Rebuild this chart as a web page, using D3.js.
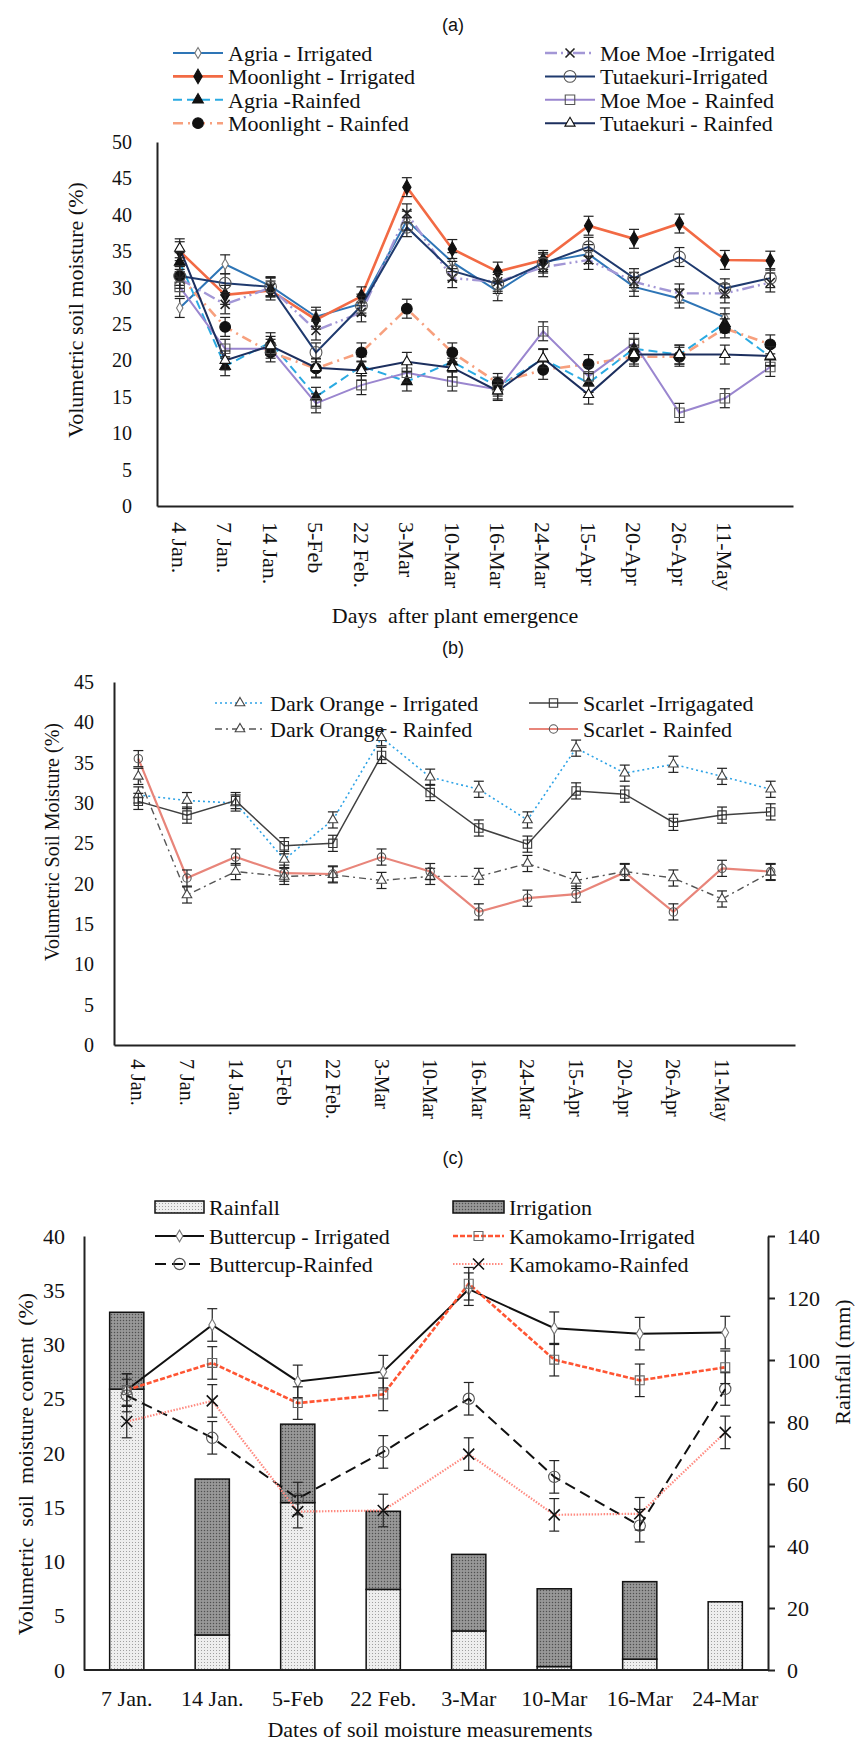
<!DOCTYPE html>
<html>
<head>
<meta charset="utf-8">
<script src="https://cdn.jsdelivr.net/npm/d3@7"></script>
<style>
  body { margin: 0; background: #fff; }
  svg text { font-family: "Liberation Serif", "Times New Roman", serif; fill: #111; }
  svg text.panel { font-family: "Liberation Sans", Arial, sans-serif; }
</style>
</head>
<body>
<script>
// ---------- data: panel (a) ----------
let datesA = ["4 Jan.", "7 Jan.", "14 Jan.", "5-Feb", "22 Feb.", "3-Mar", "10-Mar",
  "16-Mar", "24-Mar", "15-Apr", "20-Apr", "26-Apr", "11-May", ""];

let agriaIrr = [27.2, 33.2, 30.2, 26.0, 27.8, 39.2, 33.5, 29.5, 33.5, 34.6, 30.1, 28.5, 25.9, null];
let moonlightIrr = [35.0, 29.0, 29.6, 25.6, 28.8, 43.8, 35.3, 32.2, 33.8, 38.5, 36.7, 38.8, 33.8, 33.7];
let agriaRain = [33.5, 19.2, 22.5, 15.0, 19.2, 17.1, 19.8, 16.4, 20.2, 16.9, 21.6, 20.8, 25.1, 20.5];
let moonlightRain = [31.6, 24.6, 21.1, 18.9, 21.1, 27.1, 21.1, 16.9, 18.7, 19.5, 20.5, 20.5, 24.4, 22.2];
let moeMoeIrr = [31.2, 27.7, 30.0, 24.1, 26.6, 40.2, 31.3, 30.8, 32.8, 33.8, 30.8, 29.2, 29.2, 30.7];
let tutaekuriIrr = [31.6, 30.6, 30.1, 21.1, 27.5, 38.3, 32.3, 30.5, 33.3, 35.6, 31.3, 34.2, 29.9, 31.3];
let moeMoeRain = [30.1, 21.6, 21.6, 14.1, 16.6, 18.3, 17.1, 16.0, 24.0, 17.8, 22.4, 12.8, 14.8, 19.1];
let tutaekuriRain = [35.4, 20.0, 22.0, 19.0, 18.6, 19.8, 19.0, 15.8, 20.3, 15.3, 20.8, 20.8, 20.8, 20.6];
let errA = 1.3;
let ticksA = d3.range(0, 51, 5);

// ---------- data: panel (b) ----------
let datesB = datesA;
let darkOrangeIrr = [31.0, 30.3, 30.0, 23.0, 27.9, 38.1, 33.2, 31.7, 27.9, 36.8, 33.7, 34.8, 33.3, 31.7];
let darkOrangeRain = [33.3, 18.6, 21.5, 20.9, 21.1, 20.4, 20.9, 20.9, 22.5, 20.4, 21.5, 20.7, 18.1, 21.4];
let scarletIrr = [30.2, 28.5, 30.3, 24.7, 25.0, 35.9, 31.3, 26.9, 24.9, 31.5, 31.1, 27.6, 28.5, 28.9];
let scarletRain = [35.5, 20.7, 23.3, 21.3, 21.2, 23.3, 21.5, 16.5, 18.2, 18.7, 21.4, 16.5, 21.9, 21.5];
let errB = 1.0;
let ticksB = d3.range(0, 46, 5);

// ---------- data: panel (c) ----------
let datesC = ["7 Jan.", "14 Jan.", "5-Feb", "22 Feb.", "3-Mar", "10-Mar", "16-Mar", "24-Mar"];
let rainfall = [90.6, 11.3, 54.0, 26.0, 12.6, 1.1, 3.5, 22.0];
let irrigation = [24.8, 50.3, 25.3, 25.2, 24.7, 25.1, 25.0, 0];
let buttercupIrr = [25.8, 31.8, 26.6, 27.5, 35.1, 31.5, 31.0, 31.1];
let buttercupRain = [25.3, 21.4, 15.8, 20.1, 25.0, 17.8, 13.3, 25.9];
let kamokamoIrr = [25.8, 28.3, 24.6, 25.4, 35.6, 28.6, 26.7, 27.9];
let kamokamoRain = [22.9, 24.8, 14.6, 14.7, 19.9, 14.3, 14.4, 21.9];
let errC = 1.5;
let ticksC = d3.range(0, 41, 5);
let ticksRain = d3.range(0, 141, 20);

// ---------- svg ----------
let svg = d3.select("body").append("svg").attr("width", 855).attr("height", 1745);

let defs = svg.append("defs");
let rainPat = defs.append("pattern").attr("id", "rainPat")
  .attr("width", 3).attr("height", 3).attr("patternUnits", "userSpaceOnUse");
rainPat.append("rect").attr("width", 3).attr("height", 3).attr("fill", "#eeeeee");
rainPat.append("rect").attr("width", 1).attr("height", 1).attr("fill", "#a0a0a0");
let irrPat = defs.append("pattern").attr("id", "irrPat")
  .attr("width", 3).attr("height", 3).attr("patternUnits", "userSpaceOnUse");
irrPat.append("rect").attr("width", 3).attr("height", 3).attr("fill", "#8e8e8e");
irrPat.append("rect").attr("width", 1).attr("height", 1).attr("fill", "#505050");
irrPat.append("rect").attr("x", 1.5).attr("y", 1.5).attr("width", 1).attr("height", 1).attr("fill", "#b5b5b5");

// marker shapes
let symbolTypes = {
  diamond: d3.symbolDiamond,
  triangle: d3.symbolTriangle,
  circle: d3.symbolCircle,
  square: d3.symbolSquare,
};

function drawMarker(g, s, x, y) {
  if (s.marker === "x") {
    let h = s.msize;
    g.append("path")
      .attr("d", `M${x - h},${y - h}L${x + h},${y + h}M${x - h},${y + h}L${x + h},${y - h}`)
      .attr("stroke", s.mstroke)
      .attr("stroke-width", 1.6)
      .attr("fill", "none");
  } else {
    g.append("path")
      .attr("d", d3.symbol().type(symbolTypes[s.marker]).size(s.msize)())
      .attr("transform", `translate(${x},${y})`)
      .attr("fill", s.mfill)
      .attr("stroke", s.mstroke)
      .attr("stroke-width", 1.1);
  }
}

// draw a set of series with error bars
function drawSeries(series, xPos, yScale, err) {
  let g = svg.append("g");
  series.forEach((s) => {
    let line = d3.line()
      .defined((d) => d != null)
      .x((d, i) => xPos(i))
      .y((d) => yScale(d));
    g.append("path")
      .datum(s.values)
      .attr("d", line)
      .attr("fill", "none")
      .attr("stroke", s.color)
      .attr("stroke-width", s.width)
      .attr("stroke-dasharray", s.dash || null);
  });
  series.forEach((s) => {
    s.values.forEach((v, i) => {
      if (v == null) return;
      let x = xPos(i);
      g.append("line")
        .attr("x1", x).attr("x2", x)
        .attr("y1", yScale(v - err)).attr("y2", yScale(v + err))
        .attr("stroke", "#222").attr("stroke-width", 1.2);
      [v - err, v + err].forEach((e) => {
        g.append("line")
          .attr("x1", x - 5).attr("x2", x + 5)
          .attr("y1", yScale(e)).attr("y2", yScale(e))
          .attr("stroke", "#222").attr("stroke-width", 1.2);
      });
      drawMarker(g, s, x, yScale(v));
    });
  });
}

function drawLegendLine(s, x1, x2, y, label, fs) {
  svg.append("line")
    .attr("x1", x1).attr("x2", x2).attr("y1", y).attr("y2", y)
    .attr("stroke", s.color)
    .attr("stroke-width", s.width)
    .attr("stroke-dasharray", s.dash || null);
  drawMarker(svg, s, (x1 + x2) / 2, y);
  svg.append("text")
    .attr("x", x2 + 5).attr("y", y).attr("dy", "0.35em")
    .style("font-size", fs + "px")
    .text(label);
}

function styleAxis(g, fs) {
  g.select(".domain").attr("stroke", "#222").attr("stroke-width", 2);
  g.selectAll("text").style("font-size", fs + "px");
}

// =================== panel (a) ===================
let xA = d3.scaleBand().domain(d3.range(datesA.length)).range([157, 793]);
let yA = d3.scaleLinear().domain([0, 50]).range([506, 142]);

let seriesA = [
  { name: "Agria - Irrigated", values: agriaIrr, color: "#2E75B6", width: 2, marker: "diamond", msize: 35, mfill: "#fff", mstroke: "#777" },
  { name: "Moonlight - Irrigated", values: moonlightIrr, color: "#F26A44", width: 2.6, marker: "diamond", msize: 60, mfill: "#111", mstroke: "#111" },
  { name: "Agria -Rainfed", values: agriaRain, color: "#2AAAE2", width: 2, dash: "9,5", marker: "triangle", msize: 50, mfill: "#111", mstroke: "#111" },
  { name: "Moonlight - Rainfed", values: moonlightRain, color: "#F7A07E", width: 2.6, dash: "10,5,2,5", marker: "circle", msize: 90, mfill: "#111", mstroke: "#111" },
  { name: "Moe Moe -Irrigated", values: moeMoeIrr, color: "#A397D6", width: 2.4, dash: "12,4,2,4,2,4", marker: "x", msize: 4.5, mstroke: "#222" },
  { name: "Tutaekuri-Irrigated", values: tutaekuriIrr, color: "#1F3A6E", width: 2, marker: "circle", msize: 110, mfill: "none", mstroke: "#555" },
  { name: "Moe Moe - Rainfed", values: moeMoeRain, color: "#9A86CF", width: 2, marker: "square", msize: 90, mfill: "none", mstroke: "#555" },
  { name: "Tutaekuri - Rainfed", values: tutaekuriRain, color: "#1C2F5E", width: 2, marker: "triangle", msize: 45, mfill: "#fff", mstroke: "#111" },
];

svg.append("text").attr("class", "panel")
  .attr("x", 453).attr("y", 25).attr("dy", "0.35em")
  .attr("text-anchor", "middle").style("font-size", "18px").text("(a)");

// legend (a)
[0, 1, 2, 3].forEach((r) => {
  let y = 53 + r * 23.4;
  drawLegendLine(seriesA[r], 173, 223, y, seriesA[r].name, 22);
  drawLegendLine(seriesA[r + 4], 545, 595, y, seriesA[r + 4].name, 22);
});

let gyA = svg.append("g").attr("transform", "translate(157,0)")
  .call(d3.axisLeft(yA).tickValues(ticksA).tickSize(0).tickSizeOuter(0).tickPadding(25));
styleAxis(gyA, 20);

let gxA = svg.append("g").attr("transform", "translate(0,506)")
  .call(d3.axisBottom(xA).tickSize(0).tickSizeOuter(0).tickFormat((i) => datesA[i]));
styleAxis(gxA, 22);
gxA.selectAll("text")
  .attr("x", 16).attr("y", 0).attr("dy", "0.35em")
  .attr("transform", "rotate(90)")
  .style("text-anchor", "start");

drawSeries(seriesA, (i) => xA(i) + xA.bandwidth() / 2, yA, errA);

svg.append("text")
  .attr("transform", "translate(75,310) rotate(-90)")
  .attr("text-anchor", "middle").attr("dy", "0.35em")
  .style("font-size", "22px").text("Volumetric soil moisture (%)");

svg.append("text")
  .attr("x", 455).attr("y", 615).attr("dy", "0.35em")
  .attr("text-anchor", "middle").style("font-size", "22px")
  .style("white-space", "pre")
  .text("Days  after plant emergence");

// =================== panel (b) ===================
let xB = d3.scaleBand().domain(d3.range(datesB.length)).range([114, 795]);
let yB = d3.scaleLinear().domain([0, 45]).range([1045, 682]);

let seriesB = [
  { name: "Dark Orange - Irrigated", values: darkOrangeIrr, color: "#2EA3E6", width: 1.6, dash: "2,3", marker: "triangle", msize: 40, mfill: "#fff", mstroke: "#444" },
  { name: "Dark Orange - Rainfed", values: darkOrangeRain, color: "#555", width: 1.4, dash: "7,4,2,4", marker: "triangle", msize: 40, mfill: "#fff", mstroke: "#444" },
  { name: "Scarlet -Irrigagated", values: scarletIrr, color: "#404040", width: 1.5, marker: "square", msize: 70, mfill: "none", mstroke: "#333" },
  { name: "Scarlet - Rainfed", values: scarletRain, color: "#E8857A", width: 2.2, marker: "circle", msize: 55, mfill: "none", mstroke: "#555" },
];

svg.append("text").attr("class", "panel")
  .attr("x", 453).attr("y", 648).attr("dy", "0.35em")
  .attr("text-anchor", "middle").style("font-size", "18px").text("(b)");

drawLegendLine(seriesB[0], 215, 265, 703, seriesB[0].name, 22);
drawLegendLine(seriesB[1], 215, 265, 729, seriesB[1].name, 22);
drawLegendLine(seriesB[2], 529, 578, 703, seriesB[2].name, 22);
drawLegendLine(seriesB[3], 529, 578, 729, seriesB[3].name, 22);

let gyB = svg.append("g").attr("transform", "translate(114,0)")
  .call(d3.axisLeft(yB).tickValues(ticksB).tickSize(0).tickSizeOuter(0).tickPadding(20));
styleAxis(gyB, 20);

let gxB = svg.append("g").attr("transform", "translate(0,1045)")
  .call(d3.axisBottom(xB).tickSize(0).tickSizeOuter(0).tickFormat((i) => datesB[i]));
styleAxis(gxB, 20);
gxB.selectAll("text")
  .attr("x", 14).attr("y", 0).attr("dy", "0.35em")
  .attr("transform", "rotate(90)")
  .style("text-anchor", "start");

drawSeries(seriesB, (i) => xB(i) + xB.bandwidth() / 2, yB, errB);

svg.append("text")
  .attr("transform", "translate(52,842) rotate(-90)")
  .attr("text-anchor", "middle").attr("dy", "0.35em")
  .style("font-size", "20px").text("Volumetric Soil Moisture (%)");

// =================== panel (c) ===================
let xC = d3.scaleBand().domain(datesC).range([84, 768]).paddingInner(0.6).paddingOuter(0.3);
let yC = d3.scaleLinear().domain([0, 40]).range([1670, 1236]);
let yR = d3.scaleLinear().domain([0, 140]).range([1670, 1236]);

svg.append("text").attr("class", "panel")
  .attr("x", 453).attr("y", 1158).attr("dy", "0.35em")
  .attr("text-anchor", "middle").style("font-size", "18px").text("(c)");

// stacked bars (mm, right axis)
let stackData = datesC.map((d, i) => ({ date: d, rain: rainfall[i], irr: irrigation[i] }));
let stacked = d3.stack().keys(["rain", "irr"])(stackData);
let fills = { rain: "url(#rainPat)", irr: "url(#irrPat)" };
svg.append("g").selectAll("g")
  .data(stacked)
  .join("g")
  .attr("fill", (d) => fills[d.key])
  .selectAll("rect")
  .data((d) => d.filter((p) => p[1] - p[0] > 0))
  .join("rect")
  .attr("x", (d) => xC(d.data.date))
  .attr("width", xC.bandwidth())
  .attr("y", (d) => yR(d[1]))
  .attr("height", (d) => yR(d[0]) - yR(d[1]))
  .attr("stroke", "#111")
  .attr("stroke-width", 1.5);

let seriesC = [
  { name: "Buttercup - Irrigated", values: buttercupIrr, color: "#111", width: 2, marker: "diamond", msize: 40, mfill: "#fff", mstroke: "#777" },
  { name: "Buttercup-Rainfed", values: buttercupRain, color: "#111", width: 2, dash: "11,6", marker: "circle", msize: 100, mfill: "none", mstroke: "#555" },
  { name: "Kamokamo-Irrigated", values: kamokamoIrr, color: "#FF5533", width: 2.6, dash: "5,2", marker: "square", msize: 80, mfill: "none", mstroke: "#666" },
  { name: "Kamokamo-Rainfed", values: kamokamoRain, color: "#FF8A80", width: 2.2, dash: "1.5,1.5", marker: "x", msize: 5.5, mstroke: "#111" },
];

let gyC = svg.append("g").attr("transform", "translate(84,0)")
  .call(d3.axisLeft(yC).tickValues(ticksC).tickSize(0).tickSizeOuter(0).tickPadding(19));
styleAxis(gyC, 22);

let gyR = svg.append("g").attr("transform", "translate(768,0)")
  .call(d3.axisRight(yR).tickValues(ticksRain).tickSize(7).tickSizeOuter(0).tickPadding(12));
styleAxis(gyR, 22);
gyR.selectAll(".tick line").attr("stroke", "#222").attr("stroke-width", 2);

let gxC = svg.append("g").attr("transform", "translate(0,1670)")
  .call(d3.axisBottom(xC).tickSize(0).tickSizeOuter(0));
gxC.select(".domain").attr("d", "M84,0H768");
styleAxis(gxC, 22);
gxC.selectAll("text").attr("y", 28).attr("dy", "0.35em");

drawSeries(seriesC, (i) => xC(datesC[i]) + xC.bandwidth() / 2, yC, errC);

// legend (c)
function drawLegendRect(fill, x1, x2, y, label) {
  svg.append("rect")
    .attr("x", x1).attr("y", y - 6).attr("width", x2 - x1).attr("height", 12)
    .attr("fill", fill).attr("stroke", "#111").attr("stroke-width", 1.5);
  svg.append("text")
    .attr("x", x2 + 5).attr("y", y).attr("dy", "0.35em")
    .style("font-size", "22px").text(label);
}
drawLegendRect("url(#rainPat)", 155, 204, 1207, "Rainfall");
drawLegendRect("url(#irrPat)", 453, 504, 1207, "Irrigation");
drawLegendLine(seriesC[0], 155, 204, 1236, seriesC[0].name, 22);
drawLegendLine(seriesC[1], 155, 204, 1264, seriesC[1].name, 22);
drawLegendLine(seriesC[2], 453, 504, 1236, seriesC[2].name, 22);
drawLegendLine(seriesC[3], 453, 504, 1264, seriesC[3].name, 22);

svg.append("text")
  .attr("transform", "translate(25,1464) rotate(-90)")
  .attr("text-anchor", "middle").attr("dy", "0.35em")
  .style("font-size", "22px").style("white-space", "pre")
  .text("Volumetric  soil  moisture content  (%)");

svg.append("text")
  .attr("transform", "translate(842,1362) rotate(-90)")
  .attr("text-anchor", "middle").attr("dy", "0.35em")
  .style("font-size", "22px").text("Rainfall (mm)");

svg.append("text")
  .attr("x", 430).attr("y", 1729).attr("dy", "0.35em")
  .attr("text-anchor", "middle").style("font-size", "22px")
  .text("Dates of soil moisture measurements");
</script>
</body>
</html>
